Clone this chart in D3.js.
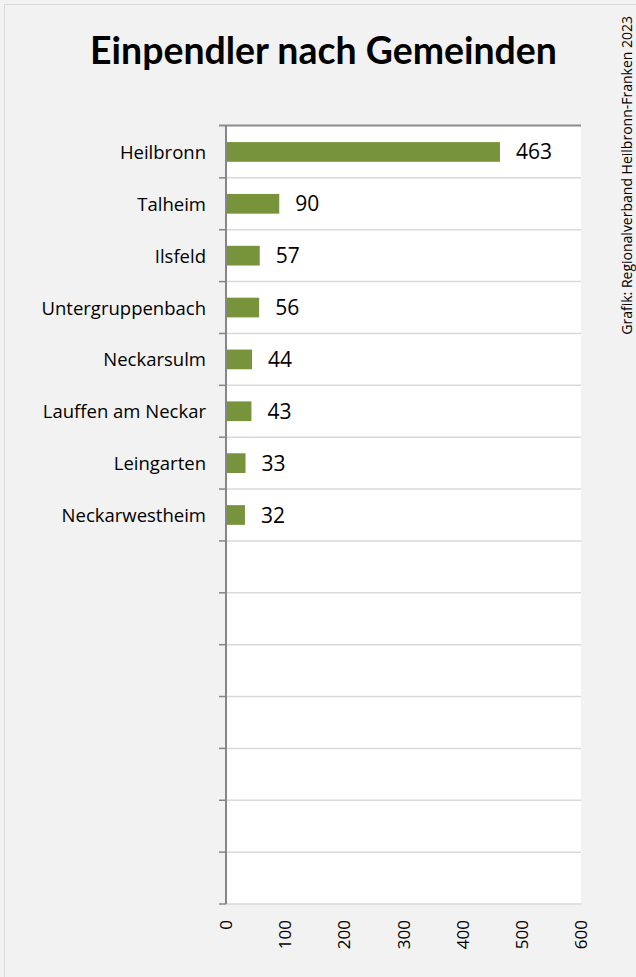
<!DOCTYPE html>
<html>
<head>
<meta charset="utf-8">
<script src="https://cdn.jsdelivr.net/npm/d3@7"></script>
<style>
  body { margin: 0; background: #fff; }
  svg { display: block; font-family: "Open Sans", sans-serif; }
</style>
</head>
<body>
<div id="chart"></div>
<script>
'use strict';

// Daten
var gemeinden = ["Heilbronn", "Talheim", "Ilsfeld", "Untergruppenbach", "Neckarsulm",
    "Lauffen am Neckar", "Leingarten", "Neckarwestheim"];
var einpendler = [463, 90, 57, 56, 44, 43, 33, 32];
var slots = 15; // leere Kategorien unten bleiben frei
var xTicks = [0, 100, 200, 300, 400, 500, 600];

var width = 636, height = 977;
var margin = { top: 126, right: 55, bottom: 73, left: 226 };

var svg = d3.select("#chart").append("svg")
    .attr("width", width)
    .attr("height", height);

// Hintergrund + Rahmen
svg.append("rect")
    .attr("width", width).attr("height", height)
    .attr("fill", "#f2f2f2");
svg.append("rect")
    .attr("x", 4.5).attr("y", 4.5)
    .attr("width", width + 10).attr("height", height + 10)
    .attr("fill", "none")
    .attr("stroke", "#d9d9d9");

var x = d3.scaleLinear()
    .domain([0, 600])
    .range([margin.left, width - margin.right]);

var y = d3.scaleBand()
    .domain(d3.range(slots))
    .range([margin.top, height - margin.bottom])
    .padding(0);

// Plotfläche
svg.append("rect")
    .attr("x", x(0)).attr("y", y.range()[0])
    .attr("width", x(600) - x(0))
    .attr("height", y.range()[1] - y.range()[0])
    .attr("fill", "#ffffff");

// Gitternetzlinien zwischen Kategorien
var gridY = d3.range(1, slots + 1).map(function (i) { return y(0) + i * y.step(); });
svg.append("g")
    .selectAll("line")
    .data(gridY)
    .enter().append("line")
    .attr("x1", x(0)).attr("x2", x(600))
    .attr("y1", function (d) { return d; })
    .attr("y2", function (d) { return d; })
    .attr("stroke", "#d9d9d9")
    .attr("stroke-width", 1.5);

// obere Linie
svg.append("line")
    .attr("x1", x(0) - 7).attr("x2", x(600))
    .attr("y1", y(0) - 0.5).attr("y2", y(0) - 0.5)
    .attr("stroke", "#8c8c8c")
    .attr("stroke-width", 2);

// Kategorie-Achse
svg.append("line")
    .attr("x1", x(0)).attr("x2", x(0))
    .attr("y1", y(0) - 1).attr("y2", y.range()[1])
    .attr("stroke", "#868686")
    .attr("stroke-width", 2);
svg.append("g")
    .selectAll("line")
    .data(gridY)
    .enter().append("line")
    .attr("x1", x(0) - 7).attr("x2", x(0))
    .attr("y1", function (d) { return d; })
    .attr("y2", function (d) { return d; })
    .attr("stroke", "#868686")
    .attr("stroke-width", 1.5);

// Balken
var barH = y.bandwidth() * 0.38;
svg.append("g")
    .selectAll("rect")
    .data(einpendler)
    .enter().append("rect")
    .attr("x", x(0) + 1)
    .attr("y", function (d, i) { return y(i) + (y.bandwidth() - barH) / 2; })
    .attr("width", function (d) { return x(d) - x(0) - 1; })
    .attr("height", barH)
    .attr("fill", "#77933c");

// Werte
svg.append("g")
    .selectAll("text")
    .data(einpendler)
    .enter().append("text")
    .attr("x", function (d) { return x(d) + 16; })
    .attr("y", function (d, i) { return y(i) + y.bandwidth() / 2; })
    .attr("dy", "0.36em")
    .attr("font-size", 21)
    .attr("fill", "#000")
    .text(function (d) { return d; });

// Kategorienamen
svg.append("g")
    .selectAll("text")
    .data(gemeinden)
    .enter().append("text")
    .attr("x", x(0) - 20)
    .attr("y", function (d, i) { return y(i) + y.bandwidth() / 2; })
    .attr("dy", "0.38em")
    .attr("text-anchor", "end")
    .attr("font-size", 18.5)
    .attr("fill", "#000")
    .text(function (d) { return d; });

// x-Achse Beschriftung (gedreht)
var yBottom = y.range()[1];
svg.append("g")
    .selectAll("text")
    .data(xTicks)
    .enter().append("text")
    .attr("transform", function (d) {
        return "translate(" + x(d) + "," + (yBottom + 16) + ") rotate(-90)";
    })
    .attr("dy", "0.36em")
    .attr("text-anchor", "end")
    .attr("font-size", 17)
    .attr("fill", "#000")
    .text(function (d) { return d; });

// Titel - Schriftgröße an Breite anpassen
var title = svg.append("text")
    .attr("x", 323.5)
    .attr("y", 64)
    .attr("text-anchor", "middle")
    .style("font-family", "Lato, sans-serif")
    .attr("font-size", 40)
    .attr("font-weight", "bold")
    .attr("fill", "#000")
    .text("Einpendler nach Gemeinden");
var tw = title.node().getComputedTextLength();
title.attr("font-size", 40 * 467 / tw);

// Quelle
svg.append("text")
    .attr("transform", "translate(632,16) rotate(-90)")
    .attr("text-anchor", "end")
    .attr("font-size", 14)
    .attr("fill", "#000")
    .text("Grafik: Regionalverband Heilbronn-Franken 2023");
</script>
</body>
</html>
